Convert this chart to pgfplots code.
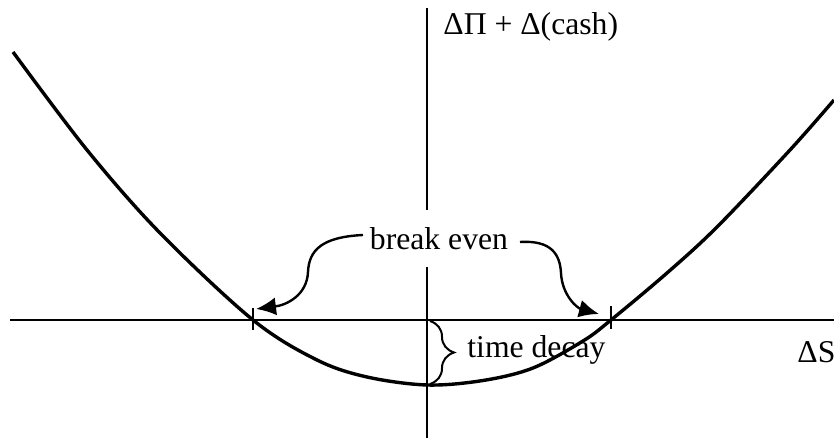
\documentclass[border=0pt]{standalone}
\usepackage{pgfplots}
\pgfplotsset{compat=1.18}
\usepackage{fontspec}
\setmainfont{Liberation Serif}
\usetikzlibrary{arrows.meta,decorations.pathreplacing}
\begin{document}
\begin{tikzpicture}[font=\fontsize{15.9}{19}\selectfont]
\begin{axis}[x=0.5bp, y=0.5bp, xmin=-427, xmax=407, ymin=-122, ymax=320,
  hide axis, clip=false, scale only axis]
\coordinate (BL) at (axis cs:-427,-122);
\coordinate (TR) at (axis cs:407,320);
% axes
\draw[line width=1bp] (axis cs:-417,0) -- (axis cs:407,0);
\draw[line width=1bp] (axis cs:0,312) -- (axis cs:0,110);
\draw[line width=1bp] (axis cs:0,53) -- (axis cs:0,-118);
% curve
\addplot[black, line width=1.7bp, smooth, tension=0.55] coordinates {
(-414,268) (-340,170) (-267,87) (-174,0) (-110,-40) (-60,-57) (0,-65)
(56,-60.5) (106,-48) (156,-21) (184,0) (240,47) (290,93) (363,170) (407,220)
};
% break-even ticks
\draw[line width=1.3bp] (axis cs:-174,12) -- (axis cs:-174,-10);
\draw[line width=1.3bp] (axis cs:184,14) -- (axis cs:184,-9);
% labels
\node[anchor=base west, inner sep=0pt] at (axis cs:16,285) {ΔΠ + Δ(cash)};
\node[anchor=base, inner sep=0pt] at (axis cs:12,70) {break even};
\node[anchor=base west, inner sep=0pt] at (axis cs:40,-38) {time decay};
\node[anchor=base west, inner sep=0pt] at (axis cs:370,-43) {ΔS};
% arrows
\draw[line width=1.2bp, -{Latex[length=10bp,width=9bp]}]
  (axis cs:-64,85) .. controls (axis cs:-105,83) and (axis cs:-118,70) .. (axis cs:-119,48)
  .. controls (axis cs:-120,25) and (axis cs:-140,15) .. (axis cs:-171,11);
\draw[line width=1.2bp, -{Latex[length=10bp,width=9bp]}]
  (axis cs:93,78) .. controls (axis cs:125,80) and (axis cs:133,65) .. (axis cs:134,47)
  .. controls (axis cs:135,25) and (axis cs:150,12) .. (axis cs:172,6);
% brace
\draw[line width=1bp, decorate, decoration={brace, amplitude=12bp}]
  (axis cs:3,-1) -- (axis cs:3,-64);
\end{axis}
\pgfresetboundingbox
\path (BL) rectangle (TR);
\end{tikzpicture}
\end{document}
